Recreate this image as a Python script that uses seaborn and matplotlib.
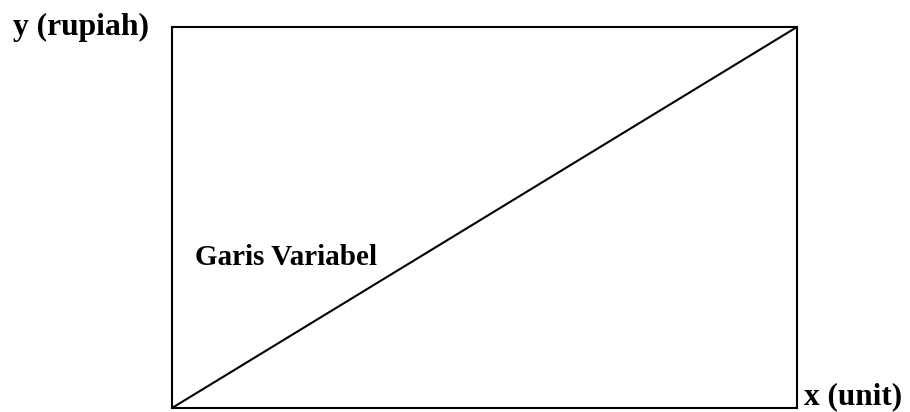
import matplotlib
matplotlib.use("Agg")
import matplotlib.pyplot as plt
import seaborn as sns
import pandas as pd

# Variable cost line: cost grows proportionally with units
units = [0, 1]
cost = [0, 1]
y_label = "y (rupiah)"
x_label = "x (unit)"
line_label = "Garis Variabel"

sns.set_theme(style="white")
plt.rcParams["font.family"] = ["Liberation Serif", "DejaVu Serif"]

fig = plt.figure(figsize=(9.10, 4.12), dpi=100)
ax = fig.add_axes([172 / 910, 4 / 412, 625 / 910, 381 / 412])

df = pd.DataFrame({"x": units, "y": cost})
sns.lineplot(data=df, x="x", y="y", ax=ax, color="black", linewidth=1.5)

ax.set_xlim(0, 1)
ax.set_ylim(0, 1)
ax.set_xticks([])
ax.set_yticks([])
ax.set_xlabel("")
ax.set_ylabel("")
for side in ax.spines.values():
    side.set_visible(True)
    side.set_color("black")
    side.set_linewidth(1.5)

label_style = dict(fontweight="bold", ha="left", va="baseline", color="black")
fig.text(13 / 910, 1 - 35 / 412, y_label, fontsize=22.8, **label_style)
fig.text(804 / 910, 1 - 404 / 412, x_label, fontsize=22.5, **label_style)
fig.text(195 / 910, 1 - 265 / 412, line_label, fontsize=21, **label_style)

fig.savefig("out.png", dpi=100, facecolor="white")
